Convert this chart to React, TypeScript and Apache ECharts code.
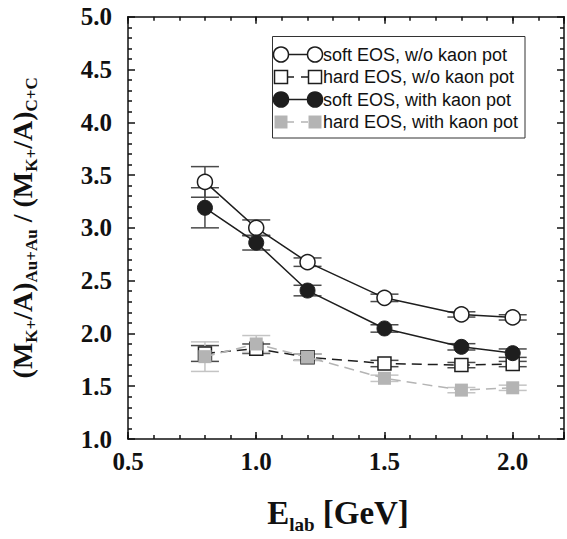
import React, { useEffect, useRef } from "react";
import * as echarts from "echarts";

const energies = [0.8, 1.0, 1.2, 1.5, 1.8, 2.0];
const softNoPot = [3.435, 3.0, 2.675, 2.337, 2.18, 2.152];
const softNoPotErr = [0.145, 0.075, 0.04, 0.035, 0.025, 0.025];
const hardNoPot = [1.81, 1.855, 1.775, 1.715, 1.7, 1.71];
const hardNoPotErr = [0.075, 0.045, 0.03, 0.03, 0.025, 0.025];
const softPot = [3.19, 2.86, 2.406, 2.047, 1.873, 1.813];
const softPotErr = [0.19, 0.07, 0.05, 0.035, 0.03, 0.04];
const hardPot = [1.78, 1.9, 1.775, 1.575, 1.463, 1.485];
const hardPotErr = [0.14, 0.08, 0.03, 0.03, 0.025, 0.025];

const legendLabels = [
  "soft EOS, w/o kaon pot",
  "hard EOS, w/o kaon pot",
  "soft EOS, with kaon pot",
  "hard EOS, with kaon pot",
];

const SERIF = "'Liberation Serif', 'Times New Roman', serif";
const SANS = "'Liberation Sans', Arial, sans-serif";
const BLACK = "#1e1e1e";
const GRAY = "#b4b4b4";
const ERR_DARK = "#4a4a4a";
const ERR_LIGHT = "#c4c4c4";

function pairs(vals: number[]) {
  return energies.map((e, i) => [e, vals[i]]);
}
function errData(vals: number[], errs: number[]) {
  return energies.map((e, i) => [e, vals[i], errs[i]]);
}

function errSeries(vals: number[], errs: number[], color: string, z: number) {
  return {
    type: "custom",
    xAxisIndex: 0,
    yAxisIndex: 0,
    z,
    silent: true,
    data: errData(vals, errs),
    renderItem: (params: any, api: any) => {
      const x = api.value(0);
      const y = api.value(1);
      const e = api.value(2);
      const top = api.coord([x, y + e]);
      const bot = api.coord([x, y - e]);
      const hw = 14;
      const st = { stroke: color, lineWidth: 1.5 };
      return {
        type: "group",
        children: [
          { type: "line", shape: { x1: top[0], y1: top[1], x2: bot[0], y2: bot[1] }, style: st },
          { type: "line", shape: { x1: top[0] - hw, y1: top[1], x2: top[0] + hw, y2: top[1] }, style: st },
          { type: "line", shape: { x1: bot[0] - hw, y1: bot[1], x2: bot[0] + hw, y2: bot[1] }, style: st },
        ],
      };
    },
  };
}

function buildLegend() {
  const left = 272.5;
  const top = 36.5;
  const x1 = 281;
  const x2 = 315;
  const rows = [54.5, 77, 99.5, 122];
  const children: any[] = [
    {
      type: "rect",
      shape: { x: left, y: top, width: 252.5, height: 101.5 },
      style: { fill: "#fff", stroke: "#333", lineWidth: 1 },
    },
  ];
  rows.forEach((cy, i) => {
    const dashed = i === 1 || i === 3;
    const col = i === 3 ? GRAY : BLACK;
    children.push({
      type: "line",
      shape: { x1: x1 + 6, y1: cy, x2: x2 - 6, y2: cy },
      style: { stroke: col, lineWidth: 1.5, lineDash: dashed ? [7, 7] : null },
    });
    [x1, x2].forEach((cx) => {
      if (i === 0 || i === 2) {
        children.push({
          type: "circle",
          shape: { cx, cy, r: 7.5 },
          style: { fill: i === 0 ? "#fff" : BLACK, stroke: BLACK, lineWidth: 1.5 },
        });
      } else {
        children.push({
          type: "rect",
          shape: { x: cx - 6.5, y: cy - 6.5, width: 13, height: 13 },
          style: i === 1 ? { fill: "#fff", stroke: BLACK, lineWidth: 1.5 } : { fill: GRAY },
        });
      }
    });
    children.push({
      type: "text",
      x: 323,
      y: cy,
      style: {
        text: legendLabels[i],
        fontFamily: SANS,
        fontSize: 18,
        fill: "#111",
        verticalAlign: "middle",
        align: "left",
      },
    });
  });
  return { type: "group", z: 100, children };
}

const App: React.FC = () => {
  const ref = useRef<HTMLDivElement>(null);
  useEffect(() => {
    if (!ref.current) return;
    const chart = echarts.init(ref.current, null, { renderer: "svg" });
    const tickLabel = {
      fontFamily: SERIF,
      fontWeight: "bold" as const,
      fontSize: 25,
      color: "#111",
    };
    const lineStyleAxis = { color: "#111", width: 1.5 };
    const isHalf = (v: number) => Math.abs(v * 2 - Math.round(v * 2)) < 1e-6;
    const option: any = {
      animation: false,
      backgroundColor: "#fff",
      grid: { left: 122.5, right: 1, top: 16.7, bottom: 76.7, containLabel: false },
      xAxis: [
        {
          type: "value",
          position: "bottom",
          min: 0.5,
          max: 2.2,
          interval: 0.5,
          axisLine: { show: true, lineStyle: lineStyleAxis },
          axisTick: { show: true, inside: true, length: 7, lineStyle: lineStyleAxis },
          axisLabel: {
            ...tickLabel,
            margin: 10,
            formatter: (v: number) => (isHalf(v) && v <= 2.0001 ? v.toFixed(1) : ""),
          },
          splitLine: { show: false },
          name: "{m|E}{s|lab}{m| [GeV]}",
          nameLocation: "middle",
          nameGap: 57,
          nameTextStyle: {
            padding: [0, 16, 0, 0],
            rich: {
              m: { fontFamily: SERIF, fontWeight: "bold", fontSize: 33, lineHeight: 36, verticalAlign: "top", color: "#111" },
              s: { fontFamily: SERIF, fontWeight: "bold", fontSize: 19, lineHeight: 19, verticalAlign: "top", padding: [19, 0, 0, 0], color: "#111" },
            },
          },
        },
        {
          type: "value",
          position: "bottom",
          min: 0.5,
          max: 2.2,
          interval: 0.1,
          axisLine: { show: false },
          axisTick: { show: true, inside: true, length: 4, lineStyle: lineStyleAxis },
          axisLabel: { show: false },
          splitLine: { show: false },
        },
        {
          type: "value",
          position: "top",
          min: 0.5,
          max: 2.2,
          interval: 0.5,
          axisLine: { show: true, lineStyle: lineStyleAxis },
          axisTick: { show: true, inside: true, length: 7, lineStyle: lineStyleAxis },
          axisLabel: { show: false },
          splitLine: { show: false },
        },
        {
          type: "value",
          position: "top",
          min: 0.5,
          max: 2.2,
          interval: 0.1,
          axisLine: { show: false },
          axisTick: { show: true, inside: true, length: 4, lineStyle: lineStyleAxis },
          axisLabel: { show: false },
          splitLine: { show: false },
        },
      ],
      yAxis: [
        {
          type: "value",
          position: "left",
          min: 1,
          max: 5,
          interval: 0.5,
          axisLine: { show: true, lineStyle: lineStyleAxis },
          axisTick: { show: true, inside: true, length: 7, lineStyle: lineStyleAxis },
          minorTick: { show: true, splitNumber: 5, length: 4, lineStyle: { color: "#111", width: 1.5 } },
          axisLabel: { ...tickLabel, margin: 16, formatter: (v: number) => v.toFixed(1) },
          splitLine: { show: false },
          name:
            "{m|(M}{s|K+}{m|/A)}{s|Au+Au}{m| / (M}{s|K+}{m|/A)}{s|C+C}",
          nameLocation: "middle",
          nameRotate: 90,
          nameGap: 90,
          nameTextStyle: {
            rich: {
              m: { fontFamily: SERIF, fontWeight: "bold", fontSize: 28, lineHeight: 30, verticalAlign: "top", color: "#111" },
              s: { fontFamily: SERIF, fontWeight: "bold", fontSize: 17, lineHeight: 17, verticalAlign: "top", padding: [15, 0, 0, 0], color: "#111" },
            },
          },
        },
        {
          type: "value",
          position: "right",
          min: 1,
          max: 5,
          interval: 0.5,
          axisLine: { show: true, lineStyle: lineStyleAxis },
          axisTick: { show: true, inside: true, length: 7, lineStyle: lineStyleAxis },
          minorTick: { show: true, splitNumber: 5, length: 4, lineStyle: { color: "#111", width: 1.5 } },
          axisLabel: { show: false },
          splitLine: { show: false },
        },
      ],
      series: [
        errSeries(hardNoPot, hardNoPotErr, ERR_DARK, 2),
        errSeries(hardPot, hardPotErr, ERR_LIGHT, 2),
        errSeries(softNoPot, softNoPotErr, ERR_DARK, 2),
        errSeries(softPot, softPotErr, ERR_DARK, 2),
        {
          type: "line",
          z: 3,
          data: pairs(hardNoPot),
          symbol: "rect",
          symbolSize: 13,
          lineStyle: { color: BLACK, width: 1.5, type: [10, 6] },
          itemStyle: { color: "#fff", borderColor: BLACK, borderWidth: 1.5 },
        },
        {
          type: "line",
          z: 4,
          data: pairs(hardPot),
          symbol: "rect",
          symbolSize: 13,
          lineStyle: { color: GRAY, width: 1.5, type: [10, 6] },
          itemStyle: { color: GRAY, borderWidth: 0 },
        },
        {
          type: "line",
          z: 5,
          data: pairs(softNoPot),
          symbol: "circle",
          symbolSize: 15,
          lineStyle: { color: BLACK, width: 1.5 },
          itemStyle: { color: "#fff", borderColor: BLACK, borderWidth: 1.5 },
        },
        {
          type: "line",
          z: 6,
          data: pairs(softPot),
          symbol: "circle",
          symbolSize: 15,
          lineStyle: { color: BLACK, width: 1.5 },
          itemStyle: { color: BLACK, borderColor: BLACK, borderWidth: 1 },
        },
      ],
      graphic: [buildLegend()],
    };
    chart.setOption(option);
    return () => chart.dispose();
  }, []);
  return (
    <div
      ref={ref}
      style={{ position: "fixed", left: 0, top: 0, width: 567, height: 539, background: "#fff" }}
    />
  );
};

export default App;
